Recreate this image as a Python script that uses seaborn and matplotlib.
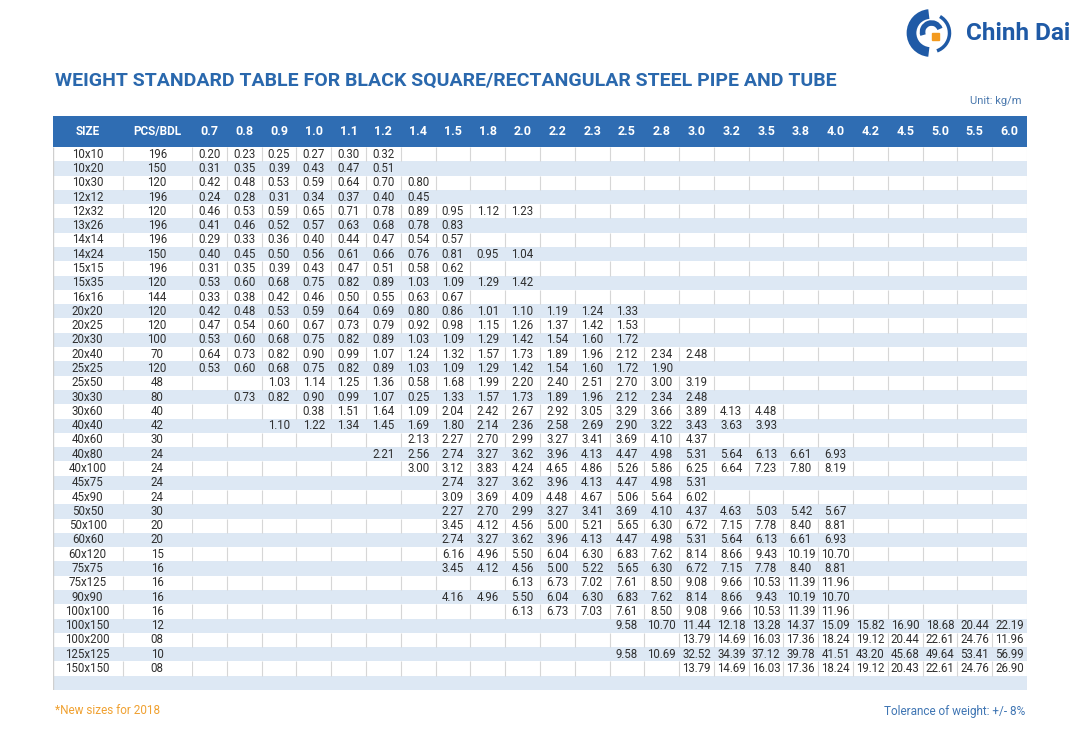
import numpy as np
import matplotlib
matplotlib.use("Agg")
import matplotlib.pyplot as plt
import seaborn as sns
from matplotlib.colors import ListedColormap
from matplotlib.patches import Arc, Rectangle

sns.set_theme(style="white")
plt.rcParams['font.family'] = ['Roboto', 'DejaVu Sans']

# ---------------- data ----------------
thicknesses = ["0.7", "0.8", "0.9", "1.0", "1.1", "1.2", "1.4", "1.5", "1.8", "2.0", "2.2", "2.3",
               "2.5", "2.8", "3.0", "3.2", "3.5", "3.8", "4.0", "4.2", "4.5", "5.0", "5.5", "6.0"]

sizes = ["10x10", "10x20", "10x30", "12x12", "12x32", "13x26", "14x14", "14x24", "15x15", "15x35",
         "16x16", "20x20", "20x25", "20x30", "20x40", "25x25", "25x50", "30x30", "30x60", "40x40",
         "40x60", "40x80", "40x100", "45x75", "45x90", "50x50", "50x100", "60x60", "60x120", "75x75",
         "75x125", "90x90", "100x100", "100x150", "100x200", "125x125", "150x150"]

pcs_bdl = ["196", "150", "120", "196", "120", "196", "196", "150", "196", "120",
           "144", "120", "120", "100", "70", "120", "48", "80", "40", "42",
           "30", "24", "24", "24", "24", "30", "20", "20", "15", "16",
           "16", "16", "16", "12", "08", "10", "08"]

# first thickness column filled for each size
start_thickness = ["0.7", "0.7", "0.7", "0.7", "0.7", "0.7", "0.7", "0.7", "0.7", "0.7",
                   "0.7", "0.7", "0.7", "0.7", "0.7", "0.7", "0.9", "0.8", "1.0", "0.9",
                   "1.4", "1.2", "1.4", "1.5", "1.5", "1.5", "1.5", "1.5", "1.5", "1.5",
                   "2.0", "1.5", "2.0", "2.5", "3.0", "2.5", "3.0"]

weights = [
    [0.20, 0.23, 0.25, 0.27, 0.30, 0.32],
    [0.31, 0.35, 0.39, 0.43, 0.47, 0.51],
    [0.42, 0.48, 0.53, 0.59, 0.64, 0.70, 0.80],
    [0.24, 0.28, 0.31, 0.34, 0.37, 0.40, 0.45],
    [0.46, 0.53, 0.59, 0.65, 0.71, 0.78, 0.89, 0.95, 1.12, 1.23],
    [0.41, 0.46, 0.52, 0.57, 0.63, 0.68, 0.78, 0.83],
    [0.29, 0.33, 0.36, 0.40, 0.44, 0.47, 0.54, 0.57],
    [0.40, 0.45, 0.50, 0.56, 0.61, 0.66, 0.76, 0.81, 0.95, 1.04],
    [0.31, 0.35, 0.39, 0.43, 0.47, 0.51, 0.58, 0.62],
    [0.53, 0.60, 0.68, 0.75, 0.82, 0.89, 1.03, 1.09, 1.29, 1.42],
    [0.33, 0.38, 0.42, 0.46, 0.50, 0.55, 0.63, 0.67],
    [0.42, 0.48, 0.53, 0.59, 0.64, 0.69, 0.80, 0.86, 1.01, 1.10, 1.19, 1.24, 1.33],
    [0.47, 0.54, 0.60, 0.67, 0.73, 0.79, 0.92, 0.98, 1.15, 1.26, 1.37, 1.42, 1.53],
    [0.53, 0.60, 0.68, 0.75, 0.82, 0.89, 1.03, 1.09, 1.29, 1.42, 1.54, 1.60, 1.72],
    [0.64, 0.73, 0.82, 0.90, 0.99, 1.07, 1.24, 1.32, 1.57, 1.73, 1.89, 1.96, 2.12, 2.34, 2.48],
    [0.53, 0.60, 0.68, 0.75, 0.82, 0.89, 1.03, 1.09, 1.29, 1.42, 1.54, 1.60, 1.72, 1.90],
    [1.03, 1.14, 1.25, 1.36, 0.58, 1.68, 1.99, 2.20, 2.40, 2.51, 2.70, 3.00, 3.19],
    [0.73, 0.82, 0.90, 0.99, 1.07, 0.25, 1.33, 1.57, 1.73, 1.89, 1.96, 2.12, 2.34, 2.48],
    [0.38, 1.51, 1.64, 1.09, 2.04, 2.42, 2.67, 2.92, 3.05, 3.29, 3.66, 3.89, 4.13, 4.48],
    [1.10, 1.22, 1.34, 1.45, 1.69, 1.80, 2.14, 2.36, 2.58, 2.69, 2.90, 3.22, 3.43, 3.63, 3.93],
    [2.13, 2.27, 2.70, 2.99, 3.27, 3.41, 3.69, 4.10, 4.37],
    [2.21, 2.56, 2.74, 3.27, 3.62, 3.96, 4.13, 4.47, 4.98, 5.31, 5.64, 6.13, 6.61, 6.93],
    [3.00, 3.12, 3.83, 4.24, 4.65, 4.86, 5.26, 5.86, 6.25, 6.64, 7.23, 7.80, 8.19],
    [2.74, 3.27, 3.62, 3.96, 4.13, 4.47, 4.98, 5.31],
    [3.09, 3.69, 4.09, 4.48, 4.67, 5.06, 5.64, 6.02],
    [2.27, 2.70, 2.99, 3.27, 3.41, 3.69, 4.10, 4.37, 4.63, 5.03, 5.42, 5.67],
    [3.45, 4.12, 4.56, 5.00, 5.21, 5.65, 6.30, 6.72, 7.15, 7.78, 8.40, 8.81],
    [2.74, 3.27, 3.62, 3.96, 4.13, 4.47, 4.98, 5.31, 5.64, 6.13, 6.61, 6.93],
    [6.16, 4.96, 5.50, 6.04, 6.30, 6.83, 7.62, 8.14, 8.66, 9.43, 10.19, 10.70],
    [3.45, 4.12, 4.56, 5.00, 5.22, 5.65, 6.30, 6.72, 7.15, 7.78, 8.40, 8.81],
    [6.13, 6.73, 7.02, 7.61, 8.50, 9.08, 9.66, 10.53, 11.39, 11.96],
    [4.16, 4.96, 5.50, 6.04, 6.30, 6.83, 7.62, 8.14, 8.66, 9.43, 10.19, 10.70],
    [6.13, 6.73, 7.03, 7.61, 8.50, 9.08, 9.66, 10.53, 11.39, 11.96],
    [9.58, 10.70, 11.44, 12.18, 13.28, 14.37, 15.09, 15.82, 16.90, 18.68, 20.44, 22.19],
    [13.79, 14.69, 16.03, 17.36, 18.24, 19.12, 20.44, 22.61, 24.76, 11.96],
    [9.58, 10.69, 32.52, 34.39, 37.12, 39.78, 41.51, 43.20, 45.68, 49.64, 53.41, 56.99],
    [13.79, 14.69, 16.03, 17.36, 18.24, 19.12, 20.43, 22.61, 24.76, 26.90],
]

left_headers = ["SIZE", "PCS/BDL"]

# ---------------- build tables ----------------
n_rows = len(sizes) + 1          # trailing empty row
n_cols = len(thicknesses)
value_text = np.full((n_rows, n_cols), "", dtype=object)
for i, (st, vals) in enumerate(zip(start_thickness, weights)):
    j0 = thicknesses.index(st)
    for k, v in enumerate(vals):
        value_text[i, j0 + k] = f"{v:.2f}"

left_text = np.full((n_rows, 2), "", dtype=object)
for i, (s, p) in enumerate(zip(sizes, pcs_bdl)):
    left_text[i, 0] = s
    left_text[i, 1] = p

stripe_r = np.array([[i % 2] * n_cols for i in range(n_rows)], dtype=float)
stripe_l = np.array([[i % 2] * 2 for i in range(n_rows)], dtype=float)

# ---------------- colours ----------------
HEADER_BLUE = "#2f6db3"
STRIPE = "#dde8f4"
TITLE_BLUE = "#2a68ad"
TEXT = "#2f2f2f"
GRID = "#d6d6d6"
stripe_cmap = ListedColormap(["white", STRIPE])
header_cmap = ListedColormap([HEADER_BLUE])

W, H = 1086, 755
fig = plt.figure(figsize=(W / 100, H / 100), dpi=100)
fig.patch.set_facecolor("white")


def fax(x0, y0, x1, y1):
    return fig.add_axes([x0 / W, 1 - y1 / H, (x1 - x0) / W, (y1 - y0) / H])


X0, XS, X1 = 53, 192, 1027
YH0, YH1, YB1 = 116, 147, 690

# header
axhl = fax(X0, YH0, XS, YH1)
sns.heatmap(np.zeros((1, 2)), ax=axhl, cmap=header_cmap, cbar=False,
            annot=np.array([left_headers], dtype=object), fmt="",
            annot_kws={"color": "white", "fontsize": 8.5, "fontweight": "bold"},
            xticklabels=False, yticklabels=False)
axhr = fax(XS, YH0, X1, YH1)
sns.heatmap(np.zeros((1, n_cols)), ax=axhr, cmap=header_cmap, cbar=False,
            annot=np.array([thicknesses], dtype=object), fmt="",
            annot_kws={"color": "white", "fontsize": 9, "fontweight": "bold"},
            xticklabels=False, yticklabels=False)

# body
axl = fax(X0, YH1, XS, YB1)
sns.heatmap(stripe_l, ax=axl, cmap=stripe_cmap, vmin=0, vmax=1, cbar=False,
            annot=left_text, fmt="", annot_kws={"color": TEXT, "fontsize": 8.3},
            xticklabels=False, yticklabels=False)
axr = fax(XS, YH1, X1, YB1)
sns.heatmap(stripe_r, ax=axr, cmap=stripe_cmap, vmin=0, vmax=1, cbar=False,
            annot=value_text, fmt="", annot_kws={"color": TEXT, "fontsize": 8.3},
            xticklabels=False, yticklabels=False)

# vertical separators on white rows
for i in range(0, n_rows - 1, 2):
    axr.vlines(np.arange(0, n_cols), i, i + 1, color=GRID, lw=0.8)
    axl.vlines([1], i, i + 1, color=GRID, lw=0.8)
axl.vlines([0], 0, n_rows, color="#cfcfcf", lw=1.0)
axr.vlines([n_cols], 0, n_rows, color="#e3e3e3", lw=0.8)

# ---------------- texts ----------------
fig.text(55 / W, 1 - 81 / H,
         "WEIGHT STANDARD TABLE FOR BLACK SQUARE/RECTANGULAR STEEL PIPE AND TUBE",
         fontsize=14, fontweight="bold", color=TITLE_BLUE, va="center", ha="left")
fig.text(1022 / W, 1 - 101 / H, "Unit: kg/m", fontsize=8, color="#4a78ad",
         va="center", ha="right")
fig.text(55 / W, 1 - 711 / H, "*New sizes for 2018", fontsize=8.5, color="#f0a131",
         va="center", ha="left")
fig.text(1025 / W, 1 - 711 / H, "Tolerance of weight: +/- 8%", fontsize=8.5,
         color="#3f75b3", va="center", ha="right")

# logo
fig.text(966 / W, 1 - 33 / H, "Chinh Dai", fontsize=17.5, fontweight="bold",
         color="#1f5aa6", va="center", ha="left")
axlogo = fax(903, 8, 958, 58)
axlogo.set_xlim(-1.25, 1.25)
axlogo.set_ylim(-1.25, 1.25)
axlogo.set_aspect("equal")
axlogo.axis("off")
axlogo.add_patch(Arc((0, 0), 1.9, 1.9, theta1=95, theta2=265, lw=7, color="#1f5aa6"))
axlogo.add_patch(Arc((0, 0), 1.9, 1.9, theta1=-70, theta2=60, lw=2.5, color="#1f5aa6"))
axlogo.add_patch(Arc((0.05, 0.05), 0.9, 0.9, theta1=20, theta2=200, lw=4, color="#1f5aa6"))
axlogo.add_patch(Rectangle((0.05, -0.35), 0.35, 0.35, angle=0, color="#f39a1e"))

fig.savefig("out.png", dpi=100, facecolor="white")
